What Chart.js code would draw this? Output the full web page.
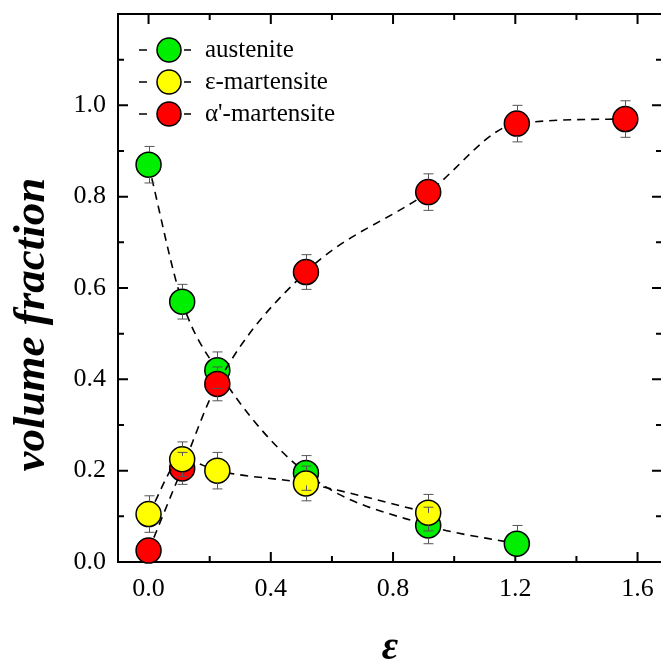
<!DOCTYPE html>
<html>
<head>
<meta charset="utf-8">
<script src="https://cdn.jsdelivr.net/npm/chart.js@4/dist/chart.umd.min.js"></script>
<style>
  html, body { margin: 0; padding: 0; background: #fff; overflow: hidden; }
</style>
</head>
<body>
<canvas id="can" width="663" height="659"></canvas>
<script>
// strain values and volume fractions
var strain = [0, 0.11, 0.225, 0.515, 0.915, 1.205, 1.56];
var austenite = [0.87, 0.57, 0.42, 0.195, 0.08, 0.04];
var austeniteErr = [0.04, 0.038, 0.04, 0.038, 0.04, 0.04];
var epsMart = [0.105, 0.225, 0.2, 0.172, 0.108];
var epsMartErr = [0.04, 0.038, 0.04, 0.038, 0.04];
var alphaMart = [0.025, 0.205, 0.39, 0.635, 0.81, 0.96, 0.97];
var alphaMartErr = [0, 0.035, 0.037, 0.038, 0.04, 0.04, 0.04];

var seriesNames = ["austenite", "\u03b5-martensite", "\u03b1'-martensite"];
var seriesColors = ["#00ee00", "#ffff00", "#ff0000"];

var xMajor = [0, 0.4, 0.8, 1.2, 1.6];
var xMinor = [0.2, 0.6, 1.0, 1.4];
var yMajor = [0, 0.2, 0.4, 0.6, 0.8, 1.0];
var yMinor = [0.1, 0.3, 0.5, 0.7, 0.9, 1.1];

var yTitle = "volume fraction";
var xTitle = "\u03b5";

var serif = "'Liberation Serif', 'Times New Roman', serif";

function pts(ys, errs) {
  return ys.map(function (v, i) { return { x: strain[i], y: v, err: errs[i] }; });
}

function series(i, ys, errs, ord) {
  return {
    label: seriesNames[i],
    data: pts(ys, errs),
    showLine: true,
    borderColor: "#000",
    borderWidth: 1.6,
    borderDash: [8, 6],
    cubicInterpolationMode: "monotone",
    pointRadius: 12.5,
    pointHoverRadius: 12.5,
    pointBackgroundColor: seriesColors[i],
    pointBorderColor: "#000",
    pointBorderWidth: 1.5,
    clip: false,
    order: ord
  };
}

// frame with inward ticks on all four sides, error bars, legend, y title
var framePlugin = {
  id: "frame",
  beforeDatasetsDraw: function (chart) {
    var ctx = chart.ctx, a = chart.chartArea;
    var xs = chart.scales.x, ys = chart.scales.y;
    ctx.save();
    ctx.strokeStyle = "#000";
    ctx.lineWidth = 2;
    ctx.strokeRect(a.left, a.top, a.right - a.left, a.bottom - a.top);
    function xt(v, len) {
      var p = xs.getPixelForValue(v);
      ctx.beginPath();
      ctx.moveTo(p, a.bottom); ctx.lineTo(p, a.bottom - len);
      ctx.moveTo(p, a.top); ctx.lineTo(p, a.top + len);
      ctx.stroke();
    }
    function yt(v, len) {
      var p = ys.getPixelForValue(v);
      ctx.beginPath();
      ctx.moveTo(a.left, p); ctx.lineTo(a.left + len, p);
      ctx.moveTo(a.right, p); ctx.lineTo(a.right - len, p);
      ctx.stroke();
    }
    xMajor.forEach(function (v) { xt(v, 10); });
    xMinor.forEach(function (v) { xt(v, 6); });
    yMajor.forEach(function (v) { yt(v, 10); });
    yMinor.forEach(function (v) { yt(v, 6); });

    // y axis title, sits a bit below the middle of the axis in the original
    ctx.translate(32, ys.getPixelForValue(0.52));
    ctx.rotate(-Math.PI / 2);
    ctx.fillStyle = "#000";
    ctx.font = "italic bold 45px " + serif;
    ctx.textAlign = "center";
    ctx.textBaseline = "middle";
    ctx.fillText(yTitle, 0, 0);
    ctx.restore();
  },
  afterDatasetsDraw: function (chart) {
    var ctx = chart.ctx;
    var xs = chart.scales.x, ys = chart.scales.y;
    ctx.save();
    ctx.strokeStyle = "#555";
    ctx.lineWidth = 1;
    chart.data.datasets.forEach(function (ds) {
      var r = ds.pointRadius;
      ds.data.forEach(function (d) {
        if (!d.err) return;
        var px = Math.round(xs.getPixelForValue(d.x)) + 0.5;
        var py = ys.getPixelForValue(d.y);
        var top = ys.getPixelForValue(d.y + d.err);
        var bot = ys.getPixelForValue(d.y - d.err);
        ctx.beginPath();
        if (top < py - r) {
          ctx.moveTo(px, py - r); ctx.lineTo(px, top);
          ctx.moveTo(px - 5, top); ctx.lineTo(px + 5, top);
        }
        if (bot > py + r && bot < chart.chartArea.bottom) {
          ctx.moveTo(px, py + r); ctx.lineTo(px, bot);
          ctx.moveTo(px - 5, bot); ctx.lineTo(px + 5, bot);
        }
        ctx.stroke();
      });
    });
    ctx.restore();
  },
  afterDraw: function (chart) {
    var ctx = chart.ctx, a = chart.chartArea;
    ctx.save();
    chart.data.datasets.forEach(function (ds, i) {
      var cy = a.top + 36 + i * 32;
      var cx = a.left + 51;
      ctx.strokeStyle = "#000";
      ctx.lineWidth = 1.6;
      ctx.beginPath();
      ctx.moveTo(cx - 30, cy); ctx.lineTo(cx - 22, cy);
      ctx.moveTo(cx + 15, cy); ctx.lineTo(cx + 22, cy);
      ctx.stroke();
      ctx.beginPath();
      ctx.arc(cx, cy, 12, 0, Math.PI * 2);
      ctx.fillStyle = seriesColors[i];
      ctx.fill();
      ctx.lineWidth = 1.5;
      ctx.stroke();
      ctx.fillStyle = "#000";
      ctx.font = "25px " + serif;
      ctx.textBaseline = "middle";
      ctx.fillText(ds.label, cx + 36, cy);
    });
    ctx.restore();
  }
};

var chart = new Chart(document.getElementById("can").getContext("2d"), {
  type: "scatter",
  data: {
    datasets: [
      series(0, austenite, austeniteErr, 3),
      series(1, epsMart, epsMartErr, 1),
      series(2, alphaMart, alphaMartErr, 2)
    ]
  },
  options: {
    responsive: false,
    animation: false,
    layout: { autoPadding: false, padding: { top: 14, right: 1, left: 0, bottom: 0 } },
    plugins: { legend: { display: false }, tooltip: { enabled: false } },
    scales: {
      x: {
        type: "linear",
        min: -0.1,
        max: 1.68,
        grid: { display: false, drawTicks: false },
        border: { display: false },
        afterBuildTicks: function (s) { s.ticks = xMajor.map(function (v) { return { value: v }; }); },
        afterFit: function (s) { s.height = 97; s.paddingLeft = 0; s.paddingRight = 0; },
        ticks: {
          padding: 12,
          color: "#000",
          font: { family: serif, size: 26 },
          callback: function (v) { return v.toFixed(1); }
        },
        title: {
          display: true,
          text: xTitle,
          color: "#000",
          font: { family: serif, size: 40, style: "italic", weight: "bold", lineHeight: 0.5 },
          padding: { top: 0, bottom: 0 }
        }
      },
      y: {
        type: "linear",
        min: 0,
        max: 1.2,
        grid: { display: false, drawTicks: false },
        border: { display: false },
        afterBuildTicks: function (s) { s.ticks = yMajor.map(function (v) { return { value: v }; }); },
        afterFit: function (s) { s.width = 118; s.paddingTop = 0; s.paddingBottom = 0; },
        ticks: {
          padding: 12,
          color: "#000",
          font: { family: serif, size: 26 },
          callback: function (v) { return v.toFixed(1); }
        }
      }
    }
  },
  plugins: [framePlugin]
});
</script>
</body>
</html>
